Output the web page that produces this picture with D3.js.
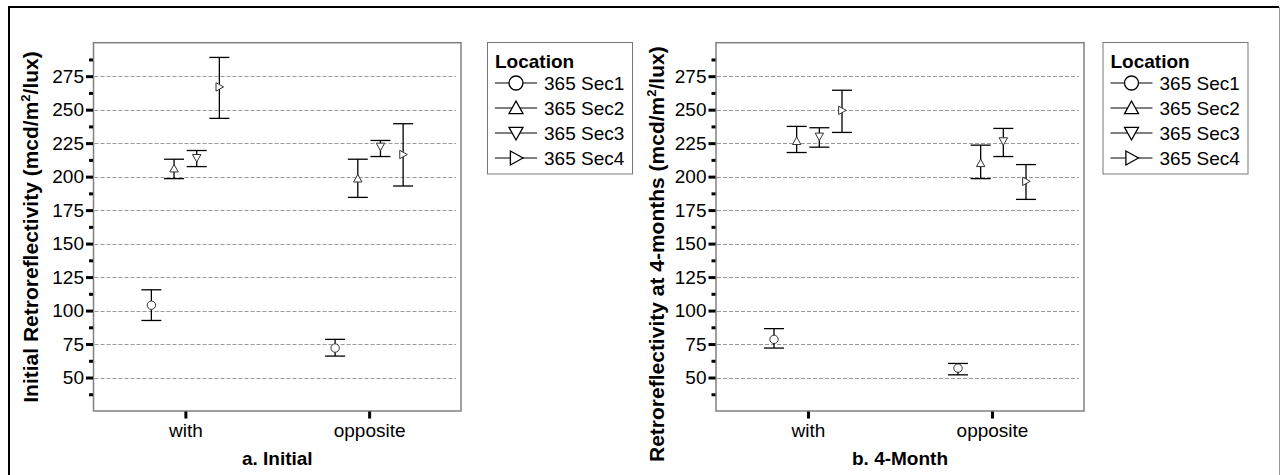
<!DOCTYPE html>
<html><head><meta charset="utf-8">
<script src="https://cdn.jsdelivr.net/npm/d3@7"></script>
<style>
html,body{margin:0;padding:0;background:#fff;}
svg{display:block;font-family:"Liberation Sans",Arial,sans-serif;}
</style></head>
<body>
<svg id="c" width="1280" height="475"></svg>
<script>
// ---- data ----
const categories = ["with", "opposite"];
const series = ["365 Sec1", "365 Sec2", "365 Sec3", "365 Sec4"];
const yTicks = [50, 75, 100, 125, 150, 175, 200, 225, 250, 275];
const yMinorTicks = [37.5, 62.5, 87.5, 112.5, 137.5, 162.5, 187.5, 212.5, 237.5, 262.5, 287.5];

// Initial: [with, opposite] per series
const initialMean = [[104, 72], [206, 198.5], [214, 222.5], [267, 216.5]];
const initialLow  = [[92.6, 66], [198.5, 184.5], [207.5, 215], [243.5, 193]];
const initialHigh = [[115.5, 78.5], [213, 213], [219.5, 227], [289, 239.5]];

// 4-Month
const monthMean = [[78.5, 57], [226.5, 210], [230, 226.5], [249.5, 196.5]];
const monthLow  = [[72, 52], [218, 198.5], [222, 215], [233, 183]];
const monthHigh = [[86.5, 60.5], [237.5, 223.5], [236.5, 236], [264.5, 209]];

const svg = d3.select("#c");

// outer frame
svg.append("line").attr("x1", 9).attr("x2", 1279).attr("y1", 7).attr("y2", 7).attr("stroke", "#000").attr("stroke-width", 2);
svg.append("line").attr("x1", 9).attr("x2", 9).attr("y1", 6).attr("y2", 475).attr("stroke", "#000").attr("stroke-width", 2);
svg.append("line").attr("x1", 1279.5).attr("x2", 1279.5).attr("y1", 7).attr("y2", 475).attr("stroke", "#999").attr("stroke-width", 1);

function markerPath(i, s) {
  const p = d3.path();
  if (i === 1) { p.moveTo(0, -s); p.lineTo(s, s * 0.8); p.lineTo(-s, s * 0.8); p.closePath(); }
  if (i === 2) { p.moveTo(0, s); p.lineTo(s, -s * 0.8); p.lineTo(-s, -s * 0.8); p.closePath(); }
  if (i === 3) { p.moveTo(s, 0); p.lineTo(-s * 0.8, s); p.lineTo(-s * 0.8, -s); p.closePath(); }
  return p.toString();
}
function drawMarker(g, i, cx, cy, s, color, sw) {
  if (i === 0) {
    g.append("circle").attr("cx", cx).attr("cy", cy).attr("r", s).attr("fill", "#fff").attr("stroke", color).attr("stroke-width", sw);
  } else {
    g.append("path").attr("d", markerPath(i, s)).attr("transform", `translate(${cx},${cy})`)
      .attr("fill", "#fff").attr("stroke", color).attr("stroke-width", sw);
  }
}

function panel(cfg) {
  const { left, right, top, bottom, mean, low, high, ytitle, ytitleX, ytitleY, ytitleAnchor, xtitle, legendX } = cfg;
  const g = svg.append("g");
  const y = d3.scaleLinear().domain([25, 300]).range([bottom, top]);
  const x = d3.scalePoint().domain(categories).range([left, right]).padding(0.5);
  const xs = d3.scalePoint().domain(series).range([-34, 34]);

  // gridlines
  g.append("g").selectAll("line").data(yTicks).join("line")
    .attr("x1", left + 1).attr("x2", right - 5)
    .attr("y1", d => Math.round(y(d)) + 0.5).attr("y2", d => Math.round(y(d)) + 0.5)
    .attr("stroke", "#9a9a9a").attr("stroke-width", 1).attr("stroke-dasharray", "4,2");

  // plot frame
  g.append("rect").attr("x", left).attr("y", top).attr("width", right - left).attr("height", bottom - top)
    .attr("fill", "none").attr("stroke", "#808080").attr("stroke-width", 1.5);

  // y axis (major)
  const yAxis = d3.axisLeft(y).tickValues(yTicks).tickSize(7).tickPadding(2).tickFormat(d3.format("d"));
  const ya = g.append("g").attr("transform", `translate(${left - 0.5},0)`).call(yAxis);
  ya.select(".domain").remove();
  ya.selectAll(".tick line").attr("stroke", "#000").attr("stroke-width", 3);
  ya.selectAll(".tick text").attr("font-size", 19).attr("fill", "#000").attr("font-family", "Liberation Sans, Arial, sans-serif");
  // minor
  const ym = g.append("g").attr("transform", `translate(${left - 0.5},0)`).call(d3.axisLeft(y).tickValues(yMinorTicks).tickSize(4).tickFormat(""));
  ym.select(".domain").remove();
  ym.selectAll(".tick line").attr("stroke", "#000").attr("stroke-width", 3);

  // x axis
  const xa = g.append("g").attr("transform", `translate(0,${bottom + 0.5})`).call(d3.axisBottom(x).tickSize(7).tickPadding(5));
  xa.select(".domain").remove();
  xa.selectAll(".tick line").attr("stroke", "#000").attr("stroke-width", 3);
  xa.selectAll(".tick text").attr("font-size", 19).attr("fill", "#000").attr("font-family", "Liberation Sans, Arial, sans-serif");

  // x title
  g.append("text").attr("x", (left + right) / 2).attr("y", 465).attr("text-anchor", "middle")
    .attr("font-size", 19).attr("font-weight", "bold").attr("fill", "#000").text(xtitle);

  // y title
  const yt = g.append("text").attr("transform", `translate(${ytitleX},${ytitleY}) rotate(-90)`)
    .attr("text-anchor", ytitleAnchor).attr("font-size", 21).attr("font-weight", "bold").attr("fill", "#000");
  yt.append("tspan").text(ytitle + " (mcd/m");
  yt.append("tspan").attr("font-size", 13).attr("dy", -8).text("2");
  yt.append("tspan").attr("dy", 8).text("/lux)");

  // error bars and markers
  series.forEach((s, i) => {
    categories.forEach((c, j) => {
      const cx = x(c) + xs(s);
      const yl = y(low[i][j]), yh = y(high[i][j]), ym2 = y(mean[i][j]);
      g.append("line").attr("x1", cx).attr("x2", cx).attr("y1", yh).attr("y2", yl).attr("stroke", "#000").attr("stroke-width", 1.3);
      g.append("line").attr("x1", cx - 10).attr("x2", cx + 10).attr("y1", yh).attr("y2", yh).attr("stroke", "#000").attr("stroke-width", 1.3);
      g.append("line").attr("x1", cx - 10).attr("x2", cx + 10).attr("y1", yl).attr("y2", yl).attr("stroke", "#000").attr("stroke-width", 1.3);
      drawMarker(g, i, cx, ym2, 4.2, "#333", 1);
    });
  });

  // legend
  const lg = g.append("g");
  lg.append("rect").attr("x", legendX + 0.5).attr("y", 42.5).attr("width", 145).attr("height", 131.5)
    .attr("fill", "#fff").attr("stroke", "#777").attr("stroke-width", 1);
  lg.append("text").attr("x", legendX + 8).attr("y", 68).attr("font-size", 19).attr("font-weight", "bold").attr("fill", "#000").text("Location");
  series.forEach((s, i) => {
    const cy = 83 + i * 25;
    lg.append("line").attr("x1", legendX + 8).attr("x2", legendX + 50).attr("y1", cy).attr("y2", cy).attr("stroke", "#000").attr("stroke-width", 1);
    drawMarker(lg, i, legendX + 29, cy, 7, "#000", 1.3);
    lg.append("text").attr("x", legendX + 57).attr("y", cy + 7).attr("font-size", 19).attr("fill", "#000").text(s);
  });
}

panel({ left: 93.5, right: 461, top: 42.7, bottom: 411, mean: initialMean, low: initialLow, high: initialHigh,
  ytitle: "Initial Retroreflectivity", ytitleX: 37.5, ytitleY: 227, ytitleAnchor: "middle", xtitle: "a. Initial", legendX: 487 });
panel({ left: 716, right: 1084, top: 42.7, bottom: 411, mean: monthMean, low: monthLow, high: monthHigh,
  ytitle: "Retroreflectivity at 4-months", ytitleX: 663.5, ytitleY: 462, ytitleAnchor: "start", xtitle: "b. 4-Month", legendX: 1102.5 });
</script>
</body></html>
